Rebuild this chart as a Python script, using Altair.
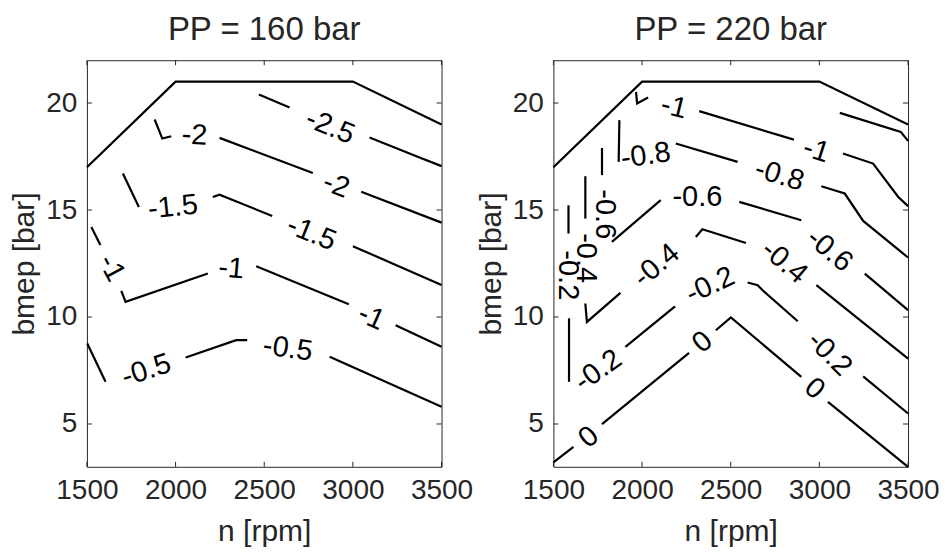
import altair as alt
import pandas as pd

# ---------------- axes ----------------
XTICKS = [1500, 2000, 2500, 3000, 3500]
YTICKS = [5, 10, 15, 20]
X_DOMAIN = [1500, 3500]
Y_DOMAIN = [3, 22]

# ---------------- PP = 160 bar : contour pieces (n [rpm], bmep [bar]) ----------------
PP160_LIMIT = [[(1500, 17.0), (2000, 21.0), (3000, 21.0), (3500, 19.0)]]
PP160_M25 = [[(2470, 20.40), (2643, 19.79)],
             [(3094, 18.39), (3376, 17.45), (3500, 17.05)]]
PP160_M20 = [[(1882, 19.23), (1925, 18.34), (1976, 18.45)],
             [(2248, 18.37), (2774, 16.73)],
             [(3047, 15.85), (3500, 14.41)]]
PP160_M15 = [[(1703, 16.71), (1793, 15.14)],
             [(2210, 15.61), (2248, 15.72), (2545, 14.72)],
             [(3000, 13.31), (3500, 11.50)]]
PP160_M10 = [[(1525, 14.21), (1576, 13.36)],
             [(1694, 11.22), (1718, 10.71), (2182, 12.03)],
             [(2455, 12.37), (2977, 10.60)],
             [(3241, 9.62), (3500, 8.61)]]
PP160_M05 = [[(1502, 8.76), (1605, 6.97)],
             [(2057, 8.11), (2342, 8.92), (2404, 8.92)],
             [(2869, 8.14), (3500, 5.81)]]
PP160_LABELS = [  # text, n, bmep, angle
    ("-2.5", 2872, 18.90, 22),
    ("-2", 2107, 18.50, 3),
    ("-2", 2906, 16.16, 21),
    ("-1.5", 1985, 15.14, -6),
    ("-1.5", 2767, 13.92, 22),
    ("-1", 1640, 12.30, 62),
    ("-1", 2314, 12.27, 5),
    ("-1", 3104, 10.00, 24),
    ("-0.5", 1835, 7.51, -18),
    ("-0.5", 2633, 8.53, 8),
]

# ---------------- PP = 220 bar ----------------
PP220_LIMIT = [[(1500, 17.0), (2000, 21.0), (3000, 21.0), (3500, 19.0)]]
PP220_M12 = [[(3115, 19.54), (3459, 18.65), (3500, 18.23)]]
PP220_M10 = [[(1966, 20.52), (1972, 19.98), (2034, 20.26)],
             [(2322, 19.62), (2856, 18.29)],
             [(3133, 17.64), (3303, 17.17), (3445, 15.61), (3500, 15.18)]]
PP220_M08 = [[(1872, 19.20), (1868, 17.25)],
             [(2190, 18.11), (2539, 17.25)],
             [(3011, 16.11), (3143, 15.77), (3247, 14.49), (3500, 12.78)]]
PP220_M06 = [[(1774, 17.90), (1774, 16.63)],
             [(1830, 13.51), (2105, 15.46)],
             [(2548, 15.38), (2898, 14.52)],
             [(3256, 12.03), (3500, 10.32)]]
PP220_M04 = [[(1680, 16.58), (1680, 14.60)],
             [(1680, 10.63), (1689, 9.77), (1878, 11.13)],
             [(2303, 13.74), (2340, 14.10), (2586, 13.46)],
             [(2983, 11.49), (3500, 8.06)]]
PP220_M02 = [[(1585, 15.22), (1585, 13.90)],
             [(1588, 9.94), (1588, 6.97)],
             [(1906, 8.60), (2186, 10.50)],
             [(2595, 11.61), (2652, 11.49), (2680, 11.25), (2878, 9.80)],
             [(3247, 7.23), (3500, 5.49)]]
PP220_Z00 = [[(1500, 3.21), (1613, 3.93)],
             [(1774, 4.99), (2265, 8.32)],
             [(2416, 9.38), (2501, 9.98), (2898, 7.20)],
             [(3048, 6.03), (3500, 3.00)]]
PP220_LABELS = [
    ("-1", 2180, 19.82, 14),
    ("-1", 2983, 17.79, 18),
    ("-0.8", 2020, 17.55, -8),
    ("-0.8", 2775, 16.63, 17),
    ("-0.6", 1789, 14.80, 90),
    ("-0.6", 2312, 15.61, 0),
    ("-0.6", 3058, 13.12, 40),
    ("-0.4", 1681, 12.75, 90),
    ("-0.4", 2081, 12.42, -40),
    ("-0.4", 2803, 12.58, 40),
    ("-0.2", 1585, 11.95, 90),
    ("-0.2", 1752, 7.51, -35),
    ("-0.2", 2384, 11.49, -25),
    ("-0.2", 3058, 8.29, 45),
    ("0", 1698, 4.40, -40),
    ("0", 2340, 8.84, -40),
    ("0", 2973, 6.66, 40),
]

FONT = "Liberation Sans"
GREY = "#262626"
W, H = 355, 407
TL = 5  # inward tick length


def line_frame(groups):
    rows = []
    for g, segs in enumerate(groups):
        for s, seg in enumerate(segs):
            for i, (n, b) in enumerate(seg):
                rows.append({"seg": f"{g}_{s}", "i": i, "n": n, "bmep": b})
    return pd.DataFrame(rows)


def label_frame(labels):
    return pd.DataFrame([{"txt": t, "n": n, "bmep": b, "ang": a % 360}
                         for t, n, b, a in labels])


XS = alt.Scale(domain=X_DOMAIN, nice=False, zero=False)
YS = alt.Scale(domain=Y_DOMAIN, nice=False, zero=False)
XAX = alt.Axis(values=XTICKS, format="d", title="n [rpm]", ticks=False, tickSize=0,
               domain=False, grid=False, labelFont=FONT, labelFontSize=28,
               labelColor=GREY, labelPadding=10, labelOverlap=False, labelFlush=False,
               titleFont=FONT, titleFontSize=30, titleFontWeight="normal",
               titleColor=GREY, titlePadding=12)
YAX = alt.Axis(values=YTICKS, format="d", title="bmep [bar]", ticks=False, tickSize=0,
               domain=False, grid=False, labelFont=FONT, labelFontSize=28,
               labelColor=GREY, labelPadding=10, labelOverlap=False, labelFlush=False,
               titleFont=FONT, titleFontSize=30, titleFontWeight="normal",
               titleColor=GREY, titlePadding=6)


def xenc():
    return alt.X("n:Q", scale=XS, axis=XAX)


def yenc():
    return alt.Y("bmep:Q", scale=YS, axis=YAX)


def panel(title, groups, labels):
    lines = alt.Chart(line_frame(groups)).mark_line(color="black", strokeWidth=2.2).encode(
        x=xenc(), y=yenc(), detail="seg:N", order="i:O",
    )
    text = alt.Chart(label_frame(labels)).mark_text(
        font=FONT, fontSize=29, color="black", align="center", baseline="middle"
    ).encode(
        x=xenc(), y=yenc(), text="txt:N",
        angle=alt.Angle("ang:Q", scale=None),
    )
    xt = pd.DataFrame({"n": XTICKS})
    yt = pd.DataFrame({"bmep": YTICKS})
    rule = dict(color=GREY, strokeWidth=1)
    tb = alt.Chart(xt).mark_rule(**rule).encode(x=xenc(), y=alt.value(H), y2=alt.value(H - TL))
    tt = alt.Chart(xt).mark_rule(**rule).encode(x=xenc(), y=alt.value(0), y2=alt.value(TL))
    tl = alt.Chart(yt).mark_rule(**rule).encode(y=yenc(), x=alt.value(0), x2=alt.value(TL))
    tr = alt.Chart(yt).mark_rule(**rule).encode(y=yenc(), x=alt.value(W), x2=alt.value(W - TL))
    return alt.layer(lines, text, tb, tt, tl, tr).properties(
        width=W, height=H,
        title=alt.TitleParams(title, font=FONT, fontSize=33, fontWeight="normal",
                              color=GREY, anchor="middle", frame="group",
                              baseline="alphabetic", offset=-13),
    )


left = panel("PP = 160 bar",
             [PP160_LIMIT, PP160_M25, PP160_M20, PP160_M15, PP160_M10, PP160_M05],
             PP160_LABELS)
right = panel("PP = 220 bar",
              [PP220_LIMIT, PP220_M12, PP220_M10, PP220_M08, PP220_M06, PP220_M04,
               PP220_M02, PP220_Z00],
              PP220_LABELS)

chart = alt.hconcat(left, right, spacing=112, bounds="flush").configure_view(
    stroke=GREY, strokeWidth=1
).properties(
    padding={"left": 9, "top": 13, "right": 5, "bottom": 0},
    background="white",
)

chart.save("out.html", embed_options={"renderer": "svg", "actions": False})
